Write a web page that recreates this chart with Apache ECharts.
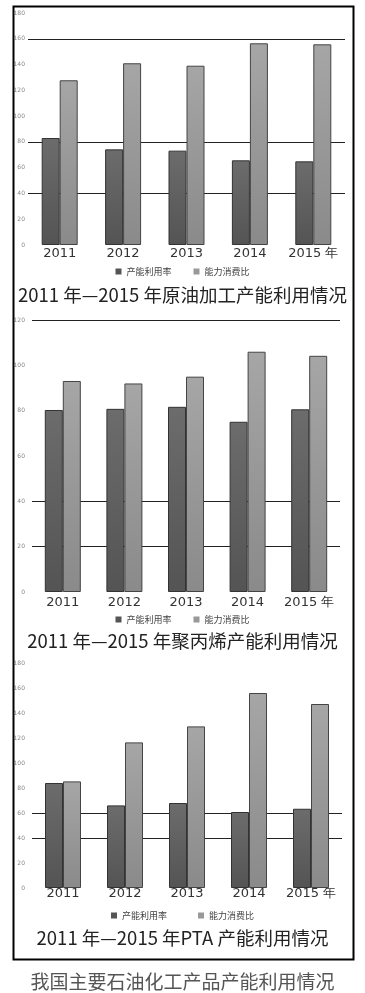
<!DOCTYPE html>
<html>
<head>
<meta charset="utf-8">
<script src="https://cdn.jsdelivr.net/npm/echarts@6/dist/echarts.min.js"></script>
<style>
html,body{margin:0;padding:0;background:#fff;}
#c{width:365px;height:993px;}
</style>
</head>
<body>
<div id="c"></div>
<script>
// ---- data ----
var years = ['2011', '2012', '2013', '2014', '2015 年'];
var seriesNames = ['产能利用率', '能力消费比'];

// 原油加工
var crudeUtil = [83.0, 74.2, 73.2, 65.7, 64.9];
var crudeRatio = [127.8, 141.0, 139.1, 156.5, 155.7];
var crudeTicks = [0, 180, 20];
var crudeLines = [40, 80, 160];

// 聚丙烯
var ppUtil = [80.3, 80.8, 81.7, 75.1, 80.6];
var ppRatio = [93.1, 92.0, 95.0, 106.0, 104.2];
var ppTicks = [0, 120, 20];
var ppLines = [20, 40, 120];

// PTA
var ptaUtil = [84.0, 66.1, 68.0, 60.8, 63.4];
var ptaRatio = [85.3, 116.5, 129.3, 156.0, 147.2];
var ptaTicks = [0, 180, 20];
var ptaLines = [40, 60];

var titles = [
  '2011 年—2015 年原油加工产能利用情况',
  '2011 年—2015 年聚丙烯产能利用情况',
  '2011 年—2015 年PTA 产能利用情况'
];
var caption = '我国主要石油化工产品产能利用情况';

// ---- styles ----
var darkColor = new echarts.graphic.LinearGradient(0, 0, 0, 1, [
  {offset: 0, color: '#6c6c6c'}, {offset: 1, color: '#545454'}
]);
var lightColor = new echarts.graphic.LinearGradient(0, 0, 0, 1, [
  {offset: 0, color: '#a6a6a6'}, {offset: 1, color: '#8a8a8a'}
]);

var grids = [
  {left: 28, right: 20, top: 13, bottom: 748},
  {left: 32, right: 25, top: 320, bottom: 401},
  {left: 32, right: 23, top: 663, bottom: 105}
];
var yLabelMargins = [3, 7, 7];
var xLabelMargins = [2, 4, -1];
var tickSets = [crudeTicks, ppTicks, ptaTicks];
var lineSets = [crudeLines, ppLines, ptaLines];
var utilSets = [crudeUtil, ppUtil, ptaUtil];
var ratioSets = [crudeRatio, ppRatio, ptaRatio];
var titleTops = [281, 627, 924];
var legendTops = [262, 610, 906];
var legendGaps = [22, 22, 31];

var xAxes = [], yAxes = [], series = [], legends = [], titleArr = [];
for (var i = 0; i < 3; i++) {
  xAxes.push({
    type: 'category', gridIndex: i, data: years,
    axisLine: {show: false}, axisTick: {show: false},
    axisLabel: {interval: 0, margin: xLabelMargins[i], fontSize: 13, color: '#333', fontFamily: 'DejaVu Sans'}
  });
  yAxes.push({
    type: 'value', gridIndex: i, min: tickSets[i][0], max: tickSets[i][1], interval: tickSets[i][2],
    axisLine: {show: false}, axisTick: {show: false}, splitLine: {show: false},
    axisLabel: {margin: yLabelMargins[i], fontSize: 6, color: '#888', fontFamily: 'DejaVu Sans'}
  });
  series.push({
    name: 'grid' + i, type: 'line', xAxisIndex: i, yAxisIndex: i, data: [], z: 1,
    silent: true,
    markLine: {
      silent: true, symbol: 'none', z: 1,
      label: {show: false},
      lineStyle: {color: '#222', width: 1, type: 'solid'},
      data: lineSets[i].map(function (v) { return {yAxis: v}; })
    }
  });
  series.push({
    name: seriesNames[0], type: 'bar', xAxisIndex: i, yAxisIndex: i, data: utilSets[i],
    barWidth: 18, barGap: '0%', z: 3,
    itemStyle: {color: darkColor, borderColor: '#333', borderWidth: 1}
  });
  series.push({
    name: seriesNames[1], type: 'bar', xAxisIndex: i, yAxisIndex: i, data: ratioSets[i],
    barWidth: 18, barGap: '0%', z: 3,
    itemStyle: {color: lightColor, borderColor: '#444', borderWidth: 1}
  });
  legends.push({
    top: legendTops[i], left: 'center', itemWidth: 6, itemHeight: 6, itemGap: legendGaps[i],
    icon: 'rect',
    data: [
      {name: seriesNames[0], itemStyle: {color: '#555', borderWidth: 0}},
      {name: seriesNames[1], itemStyle: {color: '#999', borderWidth: 0}}
    ],
    textStyle: {fontSize: 9, color: '#444', fontFamily: 'Noto Sans CJK SC'}
  });
  titleArr.push({
    text: titles[i], left: 'center', top: titleTops[i],
    textStyle: {fontSize: 18.5, fontWeight: 'normal', color: '#222', fontFamily: 'Noto Sans CJK SC'}
  });
}
titleArr.push({
  text: caption, left: 'center', top: 967,
  textStyle: {fontSize: 19, fontWeight: 'normal', color: '#555', fontFamily: 'Noto Sans CJK SC'}
});

var chart = echarts.init(document.getElementById('c'), null, {renderer: 'canvas'});
chart.setOption({
  animation: false,
  backgroundColor: '#fff',
  title: titleArr,
  legend: legends,
  grid: grids,
  xAxis: xAxes,
  yAxis: yAxes,
  series: series,
  graphic: [{
    type: 'rect', left: 11, top: 4, z: 100,
    shape: {width: 340, height: 953},
    style: {fill: 'none', stroke: '#000', lineWidth: 2}
  }]
});
</script>
</body>
</html>
